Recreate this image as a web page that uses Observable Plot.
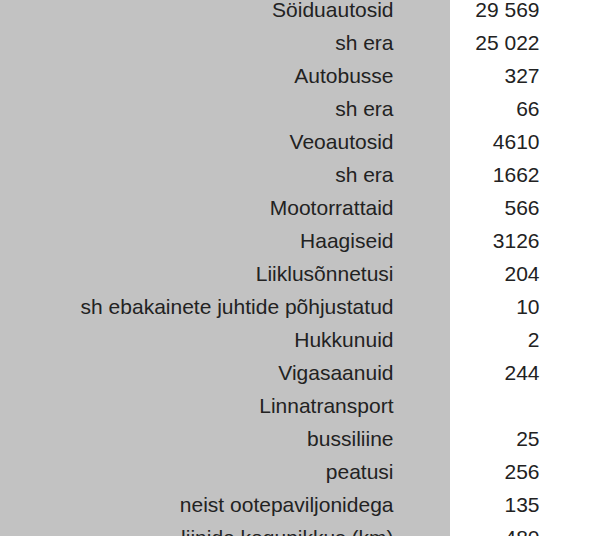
<!DOCTYPE html>
<html><head><meta charset="utf-8">
<script src="https://cdn.jsdelivr.net/npm/d3@7"></script>
<script src="https://cdn.jsdelivr.net/npm/@observablehq/plot@0.6"></script>
<style>
body{margin:0;background:#fff}
#chart{width:614px;height:536px;overflow:hidden;background:linear-gradient(to right,#c2c2c2 0,#c2c2c2 450px,#fff 450px)}
</style>
</head><body><div id="chart"></div>
<script>
const labels = [
  "Söiduautosid", "sh era", "Autobusse", "sh era", "Veoautosid", "sh era",
  "Mootorrattaid", "Haagiseid", "Liiklusõnnetusi", "sh ebakainete juhtide põhjustatud",
  "Hukkunuid", "Vigasaanuid", "Linnatransport", "bussiliine", "peatusi",
  "neist ootepaviljonidega", "liinide kogupikkus (km)"
];
const values = [29569, 25022, 327, 66, 4610, 1662, 566, 3126, 204, 10, 2, 244, null, 25, 256, 135, 480];
const columns = ["label", "value"];

const rows = labels.map((l, i) => ({i, label: l, value: values[i]}));
const fmt = v => v == null ? "" : (v >= 10000 ? d3.format(",")(v).replace(/,/g, " ") : String(v));
const font = "Liberation Sans, Arial, Helvetica, sans-serif";

const plot = Plot.plot({
  width: 614, height: 536, margin: 0,
  style: {background: "transparent", fontFamily: font, overflow: "visible"},
  x: {type: "point", domain: columns, range: [393, 539], padding: 0, axis: null},
  y: {type: "point", domain: d3.range(labels.length), range: [6, 542], padding: 0, axis: null},
  marks: [
    Plot.text(rows, {x: () => "label", y: "i", text: "label", textAnchor: "end", fontSize: 21, fontFamily: font, fill: "#222"}),
    Plot.text(rows, {x: () => "value", y: "i", text: d => fmt(d.value), textAnchor: "end", fontSize: 21, fontFamily: font, fill: "#222"})
  ]
});
document.getElementById("chart").appendChild(plot);
</script>
</body></html>
